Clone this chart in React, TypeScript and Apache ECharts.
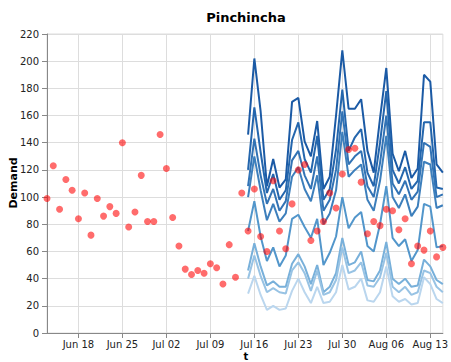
import React, { useEffect, useRef } from "react";
import * as echarts from "echarts";

// Observed daily demand, starting 2017-06-13
const HISTORY_START = "2017-06-13";
const demand = [
  99, 123, 91, 113, 105, 84, 103, 72, 99, 86, 93, 88, 140, 78, 89, 116, 82, 82, 146, 121,
  85, 64, 47, 43, 46, 44, 51, 48, 36, 65, 41,
  103, 75, 106, 71, 60, 112, 75, 62, 95, 120, 124, 68, 75, 82, 103, 92, 117, 135, 136, 111,
  73, 82, 79, 91, 90, 76, 84, 51, 64, 61, 75, 56, 63,
];

// Forecast quantile paths, starting 2017-07-15 (highest first)
const FORECAST_START = "2017-07-15";
const q1 = [146, 202, 163, 108, 128, 107, 113, 170, 173, 141, 130, 156, 106, 115, 160, 208, 165, 165, 172, 134, 118, 158, 195, 132, 119, 134, 114, 121, 190, 185, 124, 118];
const q2 = [120, 166, 133, 103, 117, 98, 105, 142, 155, 128, 118, 145, 98, 106, 135, 179, 134, 144, 150, 118, 108, 140, 178, 120, 110, 122, 106, 112, 155, 155, 107, 106];
const q3 = [108, 143, 116, 95, 106, 90, 97, 127, 134, 116, 106, 130, 90, 98, 120, 163, 124, 130, 134, 108, 100, 125, 160, 110, 102, 112, 98, 104, 140, 137, 100, 102];
const q4 = [100, 130, 105, 83, 95, 82, 88, 115, 122, 106, 97, 116, 80, 88, 105, 148, 115, 120, 124, 98, 90, 112, 145, 100, 92, 102, 86, 93, 126, 124, 92, 94];
const q5 = [75, 97, 71, 53, 63, 49, 57, 84, 87, 78, 70, 84, 50, 59, 71, 100, 77, 85, 89, 64, 60, 80, 108, 70, 64, 69, 53, 61, 95, 93, 63, 64];
const q6 = [46, 66, 49, 35, 38, 34, 34, 51, 58, 49, 36, 50, 30, 34, 44, 70, 50, 52, 60, 39, 38, 46, 67, 40, 36, 40, 34, 35, 54, 49, 39, 36];
const q7 = [40, 57, 42, 30, 33, 30, 29, 46, 52, 44, 31, 46, 28, 30, 39, 63, 44, 46, 52, 35, 34, 41, 59, 34, 30, 34, 28, 30, 46, 44, 34, 30];
const q8 = [29, 42, 28, 17, 20, 17, 18, 31, 40, 30, 22, 34, 22, 23, 30, 50, 32, 34, 40, 24, 23, 30, 49, 27, 23, 25, 21, 22, 41, 36, 25, 22];
const quantiles = [q1, q2, q3, q4, q5, q6, q7, q8];
const quantileColors = ["#1b5aa5", "#2466ad", "#3273b5", "#3d7fbc", "#5296cb", "#78b0da", "#98c3e4", "#bad6ee"];

// Weekly ticks (Sundays)
const tickDates = ["2017-06-18", "2017-06-25", "2017-07-02", "2017-07-09", "2017-07-16", "2017-07-23", "2017-07-30", "2017-08-06", "2017-08-13"];
const tickLabels = ["Jun 18", "Jun 25", "Jul 02", "Jul 09", "Jul 16", "Jul 23", "Jul 30", "Aug 06", "Aug 13"];
const X_MIN = "2017-06-13";
const X_MAX = "2017-08-15";

const DAY = 86400000;
const ts = (d: string) => new Date(d + "T00:00:00Z").getTime();
// x position in days since the first shown date
const dayOf = (d: string) => Math.round((ts(d) - ts(X_MIN)) / DAY);

const FONT = "DejaVu Sans";

export default function App() {
  const ref = useRef<HTMLDivElement>(null);

  useEffect(() => {
    if (!ref.current) return;
    const chart = echarts.init(ref.current, undefined, { renderer: "svg" });

    const histStart = dayOf(HISTORY_START);
    const fcStart = dayOf(FORECAST_START);
    const tickDays = tickDates.map(dayOf);

    const lineSeries = quantiles.map((q, i) => ({
      type: "line",
      data: q.map((v, k) => [fcStart + k, v]),
      showSymbol: false,
      symbol: "none",
      lineStyle: { width: 2, color: quantileColors[i] },
      itemStyle: { color: quantileColors[i] },
      z: 2,
    }));

    chart.setOption({
      animation: false,
      grid: {
        left: 47,
        top: 34,
        width: 398,
        height: 299,
        show: true,
        borderColor: "#ddd",
        borderWidth: 1,
        backgroundColor: "transparent",
      },
      xAxis: {
        type: "value",
        min: dayOf(X_MIN),
        max: dayOf(X_MAX),
        axisLine: { show: true, lineStyle: { color: "#888", width: 1 } },
        axisTick: { show: true, length: 5, lineStyle: { color: "#888" }, customValues: tickDays },
        splitLine: { show: true, lineStyle: { color: "#ddd", width: 1 } },
        axisLabel: {
          customValues: tickDays,
          margin: 6,
          fontFamily: FONT,
          fontSize: 10,
          color: "#222",
          formatter: (val: number) => {
            const i = tickDays.indexOf(Math.round(val));
            return i >= 0 ? tickLabels[i] : "";
          },
        },
      },
      yAxis: {
        type: "value",
        min: 0,
        max: 220,
        interval: 20,
        axisLine: { show: true, lineStyle: { color: "#888", width: 1 } },
        axisTick: { show: true, length: 5, lineStyle: { color: "#888" } },
        splitLine: { show: true, lineStyle: { color: "#ddd", width: 1 } },
        axisLabel: { margin: 8, fontFamily: FONT, fontSize: 10, color: "#222" },
      },
      series: [
        ...lineSeries,
        {
          type: "scatter",
          data: demand.map((v, k) => [histStart + k, v]),
          symbol: "circle",
          symbolSize: 7,
          itemStyle: { color: "rgba(255,0,0,0.72)" },
          z: 5,
        },
      ],
      graphic: [
        {
          type: "text",
          x: 246,
          y: 17,
          style: {
            text: "Pinchincha",
            textAlign: "center",
            textVerticalAlign: "middle",
            font: `bold 13px ${FONT}`,
            fill: "#000",
          },
        },
        {
          type: "text",
          x: 13,
          y: 183,
          rotation: Math.PI / 2,
          style: {
            text: "Demand",
            textAlign: "center",
            textVerticalAlign: "middle",
            font: `bold 11px ${FONT}`,
            fill: "#000",
          },
        },
        {
          type: "text",
          x: 246,
          y: 356,
          style: {
            text: "t",
            textAlign: "center",
            textVerticalAlign: "middle",
            font: `bold 10px ${FONT}`,
            fill: "#000",
          },
        },
      ],
    });

    return () => chart.dispose();
  }, []);

  return (
    <div
      ref={ref}
      style={{ position: "absolute", left: 0, top: 0, width: 451, height: 362 }}
    />
  );
}
